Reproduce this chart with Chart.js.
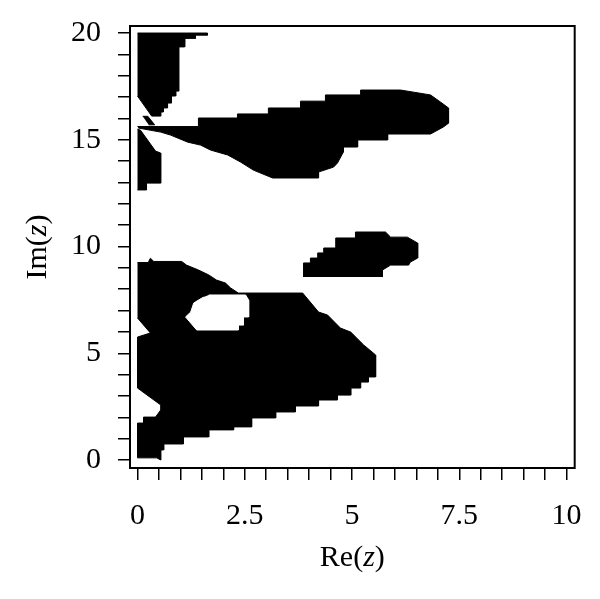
<!DOCTYPE html>
<html>
<head>
<meta charset="utf-8">
<script src="https://cdn.jsdelivr.net/npm/chart.js@4.4.0/dist/chart.umd.min.js"></script>
<style>
  html, body { margin: 0; padding: 0; background: #fff; }
  #wrap { width: 600px; height: 599px; position: relative; }
</style>
</head>
<body>
<div id="wrap"><canvas id="chart"></canvas></div>
<script>
// tick values and labels
const xTickValues = [0, 0.5, 1, 1.5, 2, 2.5, 3, 3.5, 4, 4.5, 5, 5.5, 6, 6.5, 7, 7.5, 8, 8.5, 9, 9.5, 10]
const xTickLabels = [0, 2.5, 5, 7.5, 10]
const yTickValues = [0, 1, 2, 3, 4, 5, 6, 7, 8, 9, 10, 11, 12, 13, 14, 15, 16, 17, 18, 19, 20]
const yTickLabels = [0, 5, 10, 15, 20]
const xTitleParts = ['Re(', 'z', ')']
const yTitleParts = ['Im(', 'z', ')']

// region outlines (Re, Im)
const topStripX = [0.0, 1.63, 1.63, 1.35, 1.35, 1.10, 1.10, 0.96, 0.96, 0.89, 0.89, 0.79, 0.79, 0.70, 0.70, 0.60, 0.60, 0.54, 0.54, 0.33, 0.0]
const topStripY = [20.0, 20.0, 19.9, 19.9, 19.75, 19.75, 19.35, 19.35, 17.28, 17.28, 17.05, 17.05, 16.72, 16.72, 16.49, 16.49, 16.3, 16.3, 16.11, 16.11, 17.05]

const pieceX = [0.12, 0.24, 0.40, 0.26]
const pieceY = [16.1, 16.1, 15.7, 15.7]

const bandX = [0.0, 1.42, 1.42, 2.33, 2.33, 3.05, 3.05, 3.80, 3.80, 4.38, 4.38, 5.20, 5.20, 6.13, 6.83, 7.06, 7.25, 7.25, 7.13, 6.83, 5.83, 5.83, 5.13, 5.13, 4.80, 4.80, 4.66, 4.57, 4.22, 4.22, 3.15, 2.70, 2.40, 2.10, 1.70, 1.47, 1.17, 0.77, 0.54, 0.02]
const bandY = [15.62, 15.62, 16.02, 16.02, 16.21, 16.21, 16.49, 16.49, 16.81, 16.81, 17.10, 17.10, 17.33, 17.33, 17.10, 16.77, 16.49, 15.78, 15.60, 15.27, 15.27, 14.99, 14.99, 14.66, 14.66, 14.43, 13.91, 13.72, 13.49, 13.21, 13.21, 13.58, 13.96, 14.29, 14.52, 14.75, 14.89, 15.22, 15.36, 15.55]

const leftStripX = [0.0, 0.07, 0.42, 0.54, 0.54, 0.21, 0.21, 0.0]
const leftStripY = [15.5, 15.45, 14.47, 14.38, 12.97, 12.97, 12.65, 12.65]

const islandX = [3.87, 3.87, 4.03, 4.03, 4.20, 4.20, 4.34, 4.34, 4.62, 4.62, 5.08, 5.08, 5.78, 5.90, 6.29, 6.53, 6.53, 6.36, 6.32, 5.90, 5.71, 5.71]
const islandY = [8.57, 9.23, 9.23, 9.46, 9.46, 9.70, 9.70, 9.93, 9.93, 10.40, 10.40, 10.68, 10.68, 10.44, 10.44, 10.16, 9.46, 9.27, 9.13, 9.13, 8.90, 8.57]

const bigX = [0.0, 0.25, 0.30, 0.38, 1.03, 1.14, 1.42, 1.66, 1.84, 2.05, 2.17, 2.35, 3.85, 4.22, 4.43, 4.73, 4.97, 5.27, 5.55, 5.55, 5.38, 5.38, 5.20, 5.20, 4.97, 4.97, 4.66, 4.66, 4.22, 4.22, 3.68, 3.68, 3.22, 3.22, 2.66, 2.66, 2.24, 2.24, 1.66, 1.66, 1.07, 1.07, 0.61, 0.61, 0.54, 0.54, 0.45, 0.0, 0.0, 0.14, 0.14, 0.42, 0.54, 0.54, 0.0, 0.0, 0.30, 0.0]
const bigY = [9.25, 9.25, 9.45, 9.30, 9.30, 9.13, 8.90, 8.67, 8.43, 8.29, 8.06, 7.82, 7.82, 6.93, 6.79, 6.18, 5.99, 5.39, 4.92, 3.89, 3.89, 3.65, 3.65, 3.37, 3.37, 3.04, 3.04, 2.81, 2.81, 2.53, 2.53, 2.25, 2.25, 1.97, 1.97, 1.55, 1.55, 1.41, 1.41, 1.08, 1.08, 0.75, 0.75, 0.47, 0.47, 0.0, 0.1, 0.1, 1.73, 1.73, 2.01, 2.01, 2.34, 2.58, 3.37, 5.76, 5.95, 6.65]

const holeX = [1.66, 2.52, 2.59, 2.59, 2.47, 2.47, 2.35, 2.35, 1.38, 1.12, 1.24, 1.31, 1.42, 1.54]
const holeY = [7.73, 7.73, 7.49, 6.70, 6.70, 6.32, 6.32, 6.09, 6.09, 6.70, 6.93, 7.35, 7.49, 7.63]

const FONT = '"Liberation Serif", "DejaVu Serif", serif'

function toPoints(xs, ys) {
    return xs.map(function (x, i) { return {x: x, y: ys[i]} })
}

function region(xs, ys, color) {
    return {
        data: toPoints(xs, ys),
        fill: 'shape',
        backgroundColor: color,
        borderColor: color,
        borderWidth: 1,
        pointRadius: 0,
        tension: 0
    }
}

// titles with italic z
function drawTitle(ctx, parts, cx, cy, rot) {
    const fonts = ['30px ' + FONT, 'italic 30px ' + FONT, '30px ' + FONT]
    const widths = parts.map(function (p, i) { ctx.font = fonts[i]; return ctx.measureText(p).width })
    const total = widths.reduce(function (s, w) { return s + w }, 0)
    ctx.save()
    ctx.translate(cx, cy)
    ctx.rotate(rot)
    ctx.textBaseline = 'middle'
    ctx.textAlign = 'left'
    ctx.fillStyle = '#000'
    let x = -total / 2
    parts.forEach(function (p, i) {
        ctx.font = fonts[i]
        ctx.fillText(p, x, 0)
        x += widths[i]
    })
    ctx.restore()
}

const framePlugin = {
    id: 'frame',
    afterDraw(chart) {
        const ctx = chart.ctx
        const a = chart.chartArea
        ctx.save()
        ctx.strokeStyle = '#000'
        ctx.lineWidth = 2
        ctx.strokeRect(a.left, a.top, a.right - a.left, a.bottom - a.top)
        ctx.restore()
        drawTitle(ctx, xTitleParts, (a.left + a.right) / 2, 558, 0)
        drawTitle(ctx, yTitleParts, 38, (a.top + a.bottom) / 2, -Math.PI / 2)
    }
}

new Chart(document.getElementById('chart'), {
    type: 'line',
    data: {
        datasets: [
            region(holeX, holeY, '#fff'),
            region(topStripX, topStripY, '#000'),
            region(pieceX, pieceY, '#000'),
            region(bandX, bandY, '#000'),
            region(leftStripX, leftStripY, '#000'),
            region(islandX, islandY, '#000'),
            region(bigX, bigY, '#000')
        ]
    },
    options: {
        responsive: true,
        maintainAspectRatio: false,
        animation: false,
        events: [],
        layout: { padding: { top: 26, right: 25, left: 0, bottom: 0 } },
        plugins: { legend: { display: false }, tooltip: { enabled: false } },
        scales: {
            x: {
                type: 'linear',
                min: -0.175,
                max: 10.19,
                afterBuildTicks: function (axis) { axis.ticks = xTickValues.map(function (v) { return {value: v} }) },
                afterFit: function (axis) { axis.height = 131 },
                border: { display: false },
                grid: { drawOnChartArea: false, drawTicks: true, tickLength: 12, color: '#000', lineWidth: 1.5 },
                ticks: {
                    autoSkip: false,
                    maxRotation: 0,
                    padding: 18,
                    color: '#000',
                    font: { family: FONT, size: 30 },
                    callback: function (v) { return xTickLabels.includes(v) ? String(v) : '' }
                }
            },
            y: {
                type: 'linear',
                min: -0.375,
                max: 20.33,
                afterBuildTicks: function (axis) { axis.ticks = yTickValues.map(function (v) { return {value: v} }) },
                afterFit: function (axis) {
                    axis.width = 130
                    axis.paddingTop = 0
                    axis.paddingBottom = 0
                },
                border: { display: false },
                grid: { drawOnChartArea: false, drawTicks: true, tickLength: 12, color: '#000', lineWidth: 1.5 },
                ticks: {
                    autoSkip: false,
                    padding: 17,
                    color: '#000',
                    font: { family: FONT, size: 30 },
                    callback: function (v) { return yTickLabels.includes(v) ? String(v) : '' }
                }
            }
        }
    },
    plugins: [framePlugin]
})
</script>
</body>
</html>
